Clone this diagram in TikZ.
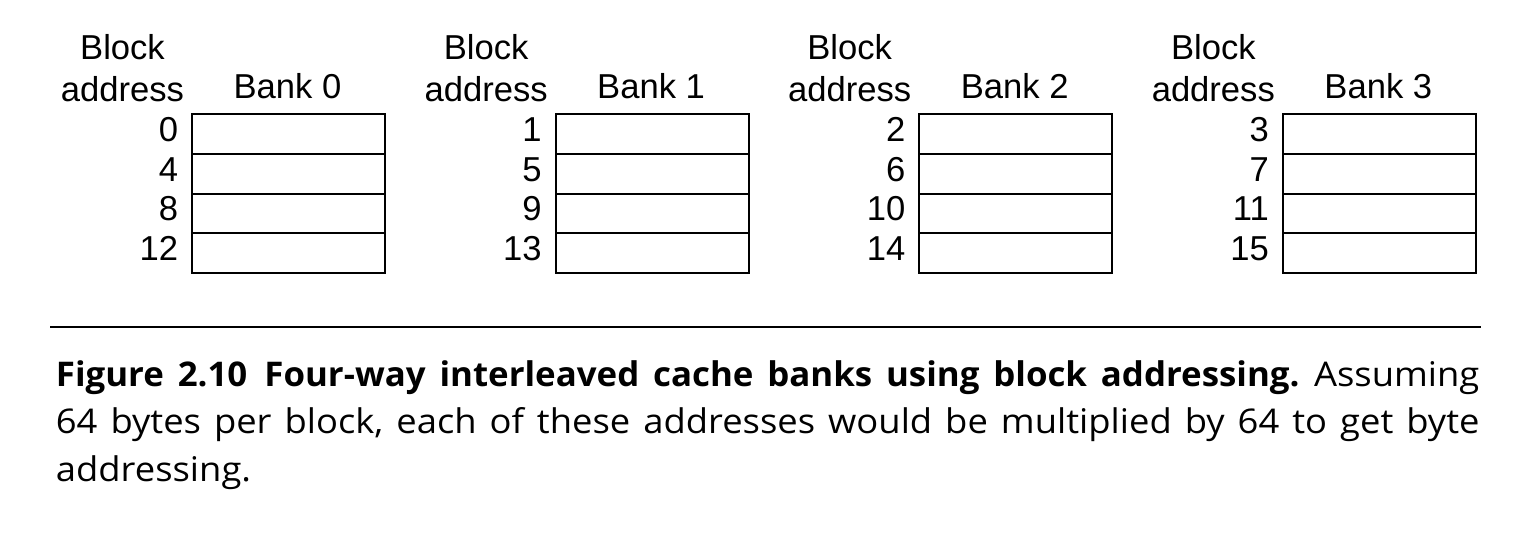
\documentclass[tikz,border=0pt]{standalone}
\usepackage{fontspec}
\setmainfont{Open Sans}[FakeStretch=1.07, BoldFeatures={FakeStretch=1.025}]
\newfontfamily\diagfont{Liberation Sans}
\frenchspacing

\begin{document}
\begin{tikzpicture}[x=0.5pt,y=-0.5pt,
  bank cell/.style={draw=black, line width=1pt, minimum width=96.5pt,
    minimum height=19.85pt, inner sep=0pt, anchor=north west},
  diag text/.style={font=\diagfont\fontsize{17.3}{20}\selectfont, inner sep=0pt},
  cap line/.style={font=\fontsize{17}{20}\selectfont, inner sep=0pt, anchor=base west}]
  \useasboundingbox (0,0) rectangle (1528,534);
  \foreach \b in {0,...,3} {
    \pgfmathsetmacro{\bx}{191+363.6*\b}
    \node[diag text, anchor=base] (blk-\b) at (\bx-68.5,59.3) {Block};
    \node[diag text, anchor=base] (addr-\b) at (\bx-68.5,101.7) {address};
    \node[diag text, anchor=base] (bank-\b) at (\bx+96.5,98.3) {Bank \b};
    \foreach \r in {0,...,3} {
      \pgfmathtruncatemacro{\addr}{\b+4*\r}
      \node[bank cell] (cell-\b-\r) at (\bx,113.3+39.7*\r) {};
      \node[diag text, anchor=base east] (num-\b-\r) at (\bx-12.5,141.5+39.7*\r) {\addr};
    }
  }
  % rule above the caption
  \coordinate (rule west) at (50,326.7);
  \coordinate (rule east) at (1481,326.7);
  \draw[line width=0.9pt] (rule west) -- (rule east);
  \node[cap line] (cap-1) at (55.5,386.7) {\makebox[711.75pt][s]{\bfseries Figure 2.10\enspace Four-way interleaved cache banks using block addressing.\mdseries{} Assuming}};
  \node[cap line] (cap-2) at (55.5,434) {\makebox[711.75pt][s]{64 bytes per block, each of these addresses would be multiplied by 64 to get byte}};
  \node[cap line] (cap-3) at (55.5,481) {addressing.};
\end{tikzpicture}
\end{document}
